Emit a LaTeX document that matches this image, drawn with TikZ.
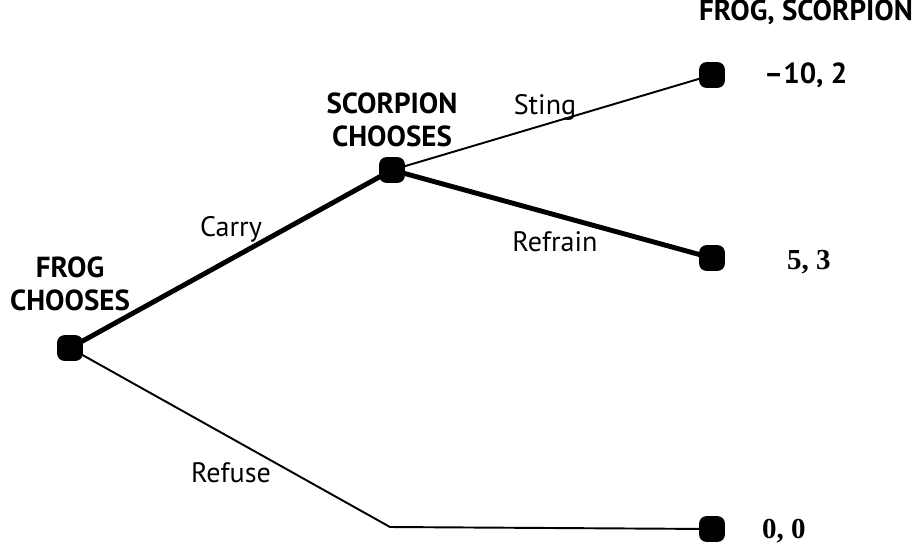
\documentclass[tikz,border=0pt]{standalone}
\usepackage{fontspec}
\setmainfont{PT Sans}
\newfontfamily\payfont{Liberation Serif}
\tikzset{
  choice/.style={draw, fill=black, minimum size=0.5cm, inner sep=0pt, rounded corners=0.14cm},
  who/.style={font=\fontsize{16.5}{18.5}\selectfont\bfseries, align=center},
  move/.style={font=\fontsize{16}{18}\selectfont},
  pay/.style={font=\fontsize{16.5}{18}\selectfont\bfseries, anchor=west},
  thickline/.style={line width=2.8pt},
  thinline/.style={line width=1.1pt}
}
\begin{document}
\begin{tikzpicture}[x=0.02cm, y=-0.02cm]
    \useasboundingbox (0,0) rectangle (916,545);
    % decision nodes and leaves
    \node[choice] (frog) at (70,348) {};
    \node[choice] (scorp) at (392,170) {};
    \node[choice] (sting) at (712,75) {};
    \node[choice] (refrain) at (712,258) {};
    \node[choice] (refuse) at (712,529) {};
    \coordinate (bend) at (390,527);

    % players
    \node[who] (frogname) at (70,284) {FROG\\CHOOSES};
    \node[who] (scorpname) at (392,120) {SCORPION\\CHOOSES};
    \node[who] (header) at (806,12) {FROG, SCORPION};

    % branches
    \draw[thickline] (frog.center) -- (scorp.center);
    \draw[thinline] (scorp.center) -- (sting.center);
    \draw[thickline] (scorp.center) -- (refrain.center);
    \draw[thinline] (frog.center) -- (bend) -- (refuse.center);

    % move labels
    \node[move] (carry) at (231,229) {Carry};
    \node[move] (stinglab) at (545,107) {Sting};
    \node[move] (refrainlab) at (555,242) {Refrain};
    \node[move] (refuselab) at (231,473) {Refuse};

    % payoffs
    \node[pay] (p1) at (758,75) {--10, 2};
    \node[pay] (p2) at (781,262) {\payfont 5, 3};
    \node[pay] (p3) at (756,531) {\payfont 0, 0};
\end{tikzpicture}
\end{document}
